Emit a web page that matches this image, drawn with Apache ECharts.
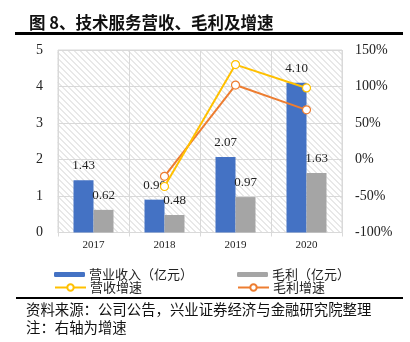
<!DOCTYPE html>
<html><head><meta charset="utf-8">
<script src="https://cdn.jsdelivr.net/npm/echarts@6/dist/echarts.min.js"></script>
<style>html,body{margin:0;padding:0;background:#fff;}#c{width:410px;height:342px;}</style>
</head><body><div id="c"></div>
<script>
var categories = ['2017', '2018', '2019', '2020'];
var revenue = [1.43, 0.90, 2.07, 4.10];
var grossProfit = [0.62, 0.48, 0.97, 1.63];
var revenueGrowth = ['-', -37, 130, 98];
var profitGrowth = ['-', -23, 102, 68];
var leftTicks = {min: 0, max: 5, interval: 1};
var rightTicks = {min: -100, max: 150, interval: 50};

var G = {left: 58, right: 68, top: 50, bottom: 109.5};
var serif = '"Liberation Serif", "Times New Roman", serif';
var cjk = '"Noto Sans CJK SC", sans-serif';

// diagonal hatch decoration for the plot background
var hatch = [];
(function () {
  var x0 = G.left, y0 = G.top, x1 = 410 - G.right, y1 = 342 - G.bottom, step = 6;
  for (var c = x0 - y1; c <= x1 - y0; c += step) {
    var ya = Math.max(y0, x0 - c), yb = Math.min(y1, x1 - c);
    if (yb > ya) {
      hatch.push({type: 'line', silent: true, z: 0,
        shape: {x1: ya + c, y1: ya, x2: yb + c, y2: yb},
        style: {stroke: '#d2d2d2', lineWidth: 1}});
    }
  }
})();

var chart = echarts.init(document.getElementById('c'), null, {renderer: 'canvas'});
function leg(name, left, top, h) {
  return {data: [name], left: left, top: top, itemWidth: 31, itemHeight: h, itemGap: 0, padding: 0,
    textStyle: {fontFamily: cjk, fontSize: 13, color: '#222', padding: [0, 0, 0, -1]}, selectedMode: false};
}
chart.setOption({
  animation: false,
  backgroundColor: '#fff',
  title: {text: '图 8、技术服务营收、毛利及增速', left: 24, top: 9,
    textStyle: {fontFamily: cjk, fontSize: 16.5, fontWeight: 'bold', color: '#111'}},
  graphic: hatch.concat([
    {type: 'rect', shape: {x: 15, y: 32, width: 388, height: 3}, style: {fill: '#000'}},
    {type: 'rect', shape: {x: 16, y: 297, width: 387, height: 2}, style: {fill: '#000'}},
    {type: 'text', left: 26, top: 302, style: {text: '资料来源：公司公告，兴业证券经济与金融研究院整理', font: '14.4px "Noto Sans CJK SC"', fill: '#111'}},
    {type: 'text', left: 26, top: 320, style: {text: '注：右轴为增速', font: '14.4px "Noto Sans CJK SC"', fill: '#111'}}
  ]),
  legend: [
    leg('营业收入（亿元）', 54, 268, 5),
    leg('毛利（亿元）', 237, 268, 5),
    leg('营收增速', 54, 281, 8),
    leg('毛利增速', 237, 281, 8)
  ],
  grid: {left: G.left, right: G.right, top: G.top, bottom: G.bottom, show: true,
    backgroundColor: 'transparent', borderColor: '#d9d9d9', borderWidth: 1,
    containLabel: false, outerBoundsMode: 'none'},
  xAxis: {type: 'category', data: categories, boundaryGap: true,
    axisLine: {show: true, lineStyle: {color: '#d9d9d9'}},
    axisTick: {show: true, length: 4, lineStyle: {color: '#d9d9d9'}},
    splitLine: {show: true, lineStyle: {color: '#d9d9d9', width: 1}},
    axisLabel: {fontFamily: serif, fontSize: 11, color: '#222', margin: 7}},
  yAxis: [
    {type: 'value', min: leftTicks.min, max: leftTicks.max, interval: leftTicks.interval,
      axisLine: {show: false}, axisTick: {show: false},
      splitLine: {show: true, lineStyle: {color: '#d9d9d9', width: 1}},
      axisLabel: {fontFamily: serif, fontSize: 14, color: '#222', margin: 15}},
    {type: 'value', min: rightTicks.min, max: rightTicks.max, interval: rightTicks.interval,
      axisLine: {show: false}, axisTick: {show: false}, splitLine: {show: false},
      axisLabel: {fontFamily: serif, fontSize: 14, color: '#222', margin: 13, formatter: '{value}%'}}
  ],
  series: [
    {name: '营业收入（亿元）', type: 'bar', data: revenue, barWidth: 20, barGap: '0%', z: 3,
      itemStyle: {color: '#4472C4'},
      label: {show: true, position: 'top', distance: 8, fontFamily: serif, fontSize: 13, color: '#222', formatter: function (p) { return p.value.toFixed(2); }}},
    {name: '毛利（亿元）', type: 'bar', data: grossProfit, barWidth: 20, barGap: '0%', z: 3,
      itemStyle: {color: '#A5A5A5'},
      label: {show: true, position: 'top', distance: 8, fontFamily: serif, fontSize: 13, color: '#222', formatter: function (p) { return p.value.toFixed(2); }}},
    {name: '营收增速', type: 'line', yAxisIndex: 1, data: revenueGrowth, z: 5,
      symbol: 'circle', symbolSize: 8, showAllSymbol: true,
      lineStyle: {color: '#FFC000', width: 2},
      itemStyle: {color: '#fff', borderColor: '#FFC000', borderWidth: 1.2}},
    {name: '毛利增速', type: 'line', yAxisIndex: 1, data: profitGrowth, z: 4,
      symbol: 'circle', symbolSize: 8, showAllSymbol: true,
      lineStyle: {color: '#ED7D31', width: 2},
      itemStyle: {color: '#fff', borderColor: '#ED7D31', borderWidth: 1.2}}
  ]
});
</script></body></html>
